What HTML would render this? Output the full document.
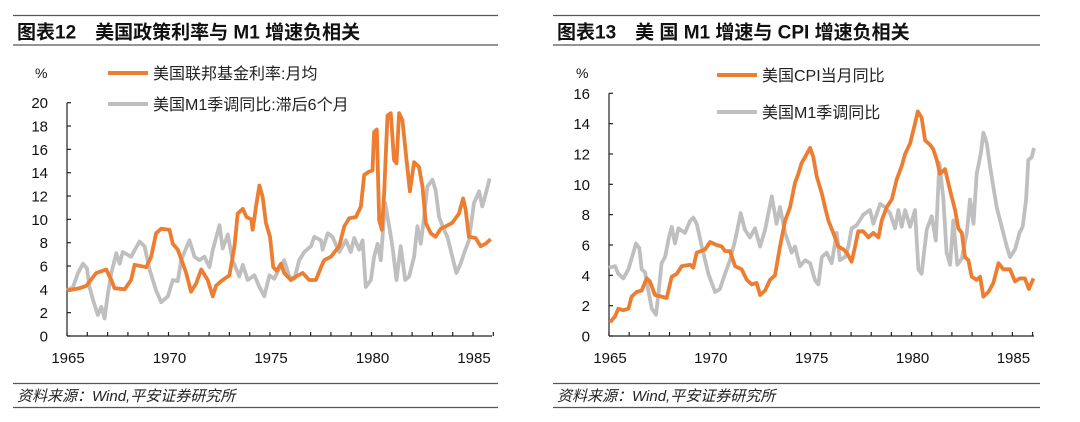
<!DOCTYPE html>
<html><head><meta charset="utf-8">
<style>
body{margin:0;background:#fff;width:1080px;height:422px;overflow:hidden;font-family:"Liberation Sans","Noto Sans CJK SC",sans-serif;}
svg{position:absolute;left:0;top:0}
</style></head>
<body>
<svg id="c" width="1080" height="422"></svg>
<script>
// ---- Chart 12 data ----
const fedYears=[65.00,65.62,65.95,66.44,66.77,66.93,67.18,67.34,67.84,68.16,68.33,68.90,69.15,69.39,69.64,70.05,70.21,70.46,70.87,71.11,71.36,71.61,71.93,72.18,72.34,72.59,73.00,73.25,73.41,73.66,73.84,74.07,74.15,74.31,74.48,74.64,74.80,75.0,75.16,75.33,75.54,75.70,76.03,76.28,76.61,76.93,77.26,77.51,77.67,78.0,78.41,78.66,78.90,79.23,79.48,79.64,79.89,80.05,80.13,80.26,80.38,80.51,80.62,80.79,80.95,81.11,81.23,81.36,81.52,81.69,81.89,82.10,82.34,82.51,82.67,82.92,83.16,83.41,83.66,83.98,84.31,84.51,84.64,84.80,85.13,85.38,85.62,85.87];
const fedValues=[3.9,4.1,4.3,5.4,5.6,5.7,4.8,4.1,4.0,4.8,6.1,5.9,6.8,8.8,9.2,9.1,7.9,7.4,5.4,3.8,4.5,5.7,4.8,3.4,4.3,4.7,5.2,7.7,10.5,10.9,10.2,10.0,9.1,11.1,12.9,11.9,9.7,8.5,5.9,5.6,6.2,5.4,4.8,5.1,5.4,4.8,4.8,5.9,6.5,6.8,7.7,9.4,10.1,10.2,11.1,13.8,14.1,14.2,17.5,17.7,9.9,9.1,12.2,18.9,19.1,15.1,14.8,19.1,18.5,15.7,12.4,14.9,14.5,12.8,9.7,8.8,8.5,9.2,9.4,9.7,10.5,11.8,10.8,8.5,8.4,7.7,7.9,8.3];
const m1LagYears=[65.00,65.30,65.54,65.79,65.98,66.11,66.28,66.52,66.69,66.85,67.02,67.18,67.43,67.59,67.75,68.16,68.57,68.82,69.07,69.39,69.64,69.97,70.21,70.46,70.62,71.03,71.28,71.52,71.77,72.02,72.18,72.51,72.67,72.92,73.16,73.49,73.66,73.90,74.23,74.48,74.72,74.97,75.21,75.46,75.70,75.95,76.20,76.44,76.69,77.02,77.18,77.51,77.59,77.84,78.08,78.41,78.74,78.98,79.15,79.39,79.56,79.72,79.97,80.13,80.30,80.46,80.67,80.87,81.03,81.23,81.44,81.66,81.85,82.10,82.26,82.43,82.59,82.75,83.00,83.16,83.33,83.57,83.74,83.98,84.18,84.39,84.56,84.80,85.05,85.30,85.46,85.66,85.82];
const m1LagValues=[3.9,4.2,5.4,6.2,5.8,4.2,3.1,1.8,2.5,1.5,3.7,5.4,7.1,6.2,7.2,6.8,8.1,7.7,5.7,3.9,2.9,3.4,4.8,4.7,6.5,8.2,6.8,6.5,6.8,5.9,7.4,9.5,7.5,8.7,6.5,5.1,6.1,4.8,5.2,4.2,3.4,5.2,4.9,5.8,6.5,5.1,4.9,6.5,7.2,7.7,8.5,8.2,7.4,8.8,8.5,7.2,8.2,7.2,8.4,7.4,8.2,4.2,4.8,6.8,7.9,6.5,11.4,9.4,7.7,4.8,7.7,4.8,5.1,6.8,9.4,7.9,10.2,12.8,13.4,12.5,10.2,9.1,8.5,6.8,5.4,6.2,7.1,8.2,11.4,12.4,11.1,12.4,13.5];
const leftYTicks=[0,2,4,6,8,10,12,14,16,18,20];
// ---- Chart 13 data ----
const cpiYears=[65.05,65.30,65.46,65.71,65.96,66.12,66.37,66.62,66.87,67.03,67.28,67.61,67.86,68.11,68.36,68.60,69.02,69.18,69.35,69.76,70.01,70.34,70.59,70.75,71.00,71.25,71.58,71.83,72.07,72.32,72.49,72.74,72.98,73.23,73.48,73.73,73.98,74.22,74.39,74.55,74.72,74.97,75.13,75.30,75.55,75.71,75.88,76.12,76.37,76.62,76.79,77.03,77.20,77.36,77.61,77.86,78.11,78.36,78.52,78.77,79.02,79.26,79.51,79.68,79.93,80.17,80.31,80.50,80.67,80.92,81.08,81.25,81.41,81.66,81.91,82.16,82.32,82.49,82.65,82.82,82.98,83.23,83.40,83.56,83.81,84.06,84.31,84.55,84.88,85.13,85.37,85.62,85.82,86.04];
const cpiValues=[0.9,1.3,1.8,1.7,1.8,2.6,2.9,3.0,3.8,3.6,2.7,2.6,2.5,3.9,4.1,4.6,4.7,4.5,5.5,5.7,6.2,6.0,5.9,5.6,5.6,4.6,4.4,3.7,3.4,3.5,2.7,3.0,3.7,4.0,5.9,7.6,8.5,10.1,10.7,11.4,11.8,12.4,11.8,10.5,9.4,8.5,7.6,6.8,5.9,5.7,5.5,4.9,5.9,6.9,6.9,6.5,6.8,6.5,7.6,8.5,9.0,10.3,11.2,12.0,12.7,14.0,14.8,14.4,12.9,12.6,12.3,11.6,10.7,11.0,9.6,8.3,7.1,6.8,5.2,5.0,3.9,3.7,3.9,2.6,2.9,3.5,4.8,4.4,4.4,3.6,3.8,3.8,3.1,3.8];
const m1Years=[65.00,65.30,65.46,65.71,65.96,66.21,66.34,66.50,66.62,66.79,66.95,67.12,67.33,67.45,67.61,67.78,67.94,68.11,68.27,68.44,68.77,69.02,69.18,69.35,69.60,69.93,70.26,70.50,70.75,71.00,71.25,71.53,71.74,71.99,72.24,72.49,72.74,73.07,73.31,73.48,73.73,74.06,74.22,74.47,74.72,74.97,75.21,75.38,75.55,75.79,76.04,76.29,76.45,76.70,76.87,77.03,77.28,77.61,77.94,78.11,78.44,78.69,78.93,79.18,79.35,79.51,79.68,79.93,80.17,80.34,80.50,80.75,81.00,81.20,81.38,81.58,81.74,81.91,82.07,82.27,82.49,82.74,82.90,83.07,83.23,83.43,83.56,83.73,83.89,84.06,84.22,84.47,84.72,84.88,85.13,85.35,85.51,85.68,85.79,85.96,86.07];
const m1Values=[4.5,4.6,4.1,3.8,4.4,5.5,6.1,5.8,4.4,4.2,3.0,1.8,1.4,2.8,4.8,5.2,6.3,7.2,6.1,7.1,6.8,7.6,7.8,7.4,5.9,4.1,2.9,3.1,4.1,5.0,6.3,8.1,7.0,6.5,7.1,5.9,7.0,9.2,7.4,8.5,6.8,5.5,5.9,4.6,5.0,4.8,3.7,3.4,5.2,5.5,4.8,6.8,5.0,5.2,5.9,7.1,7.3,8.0,8.3,7.4,8.7,8.5,8.1,7.1,8.3,7.2,8.3,7.2,8.3,4.4,4.1,7.0,7.9,6.3,11.4,9.0,5.5,4.7,7.6,4.7,5.1,6.8,9.0,7.4,10.7,12.0,13.4,12.7,11.2,9.8,8.5,7.2,5.9,5.2,5.7,6.8,7.2,9.0,11.6,11.8,12.4];
const rightYTicks=[0,2,4,6,8,10,12,14,16];
const xTickLabels=[1965,1970,1975,1980,1985];

const NS="http://www.w3.org/2000/svg";
const svg=document.getElementById('c');
function mk(tag,attrs,parent){const e=document.createElementNS(NS,tag);for(const k in attrs)e.setAttribute(k,attrs[k]);(parent||svg).appendChild(e);return e;}
function txt(s,attrs,parent){const e=mk('text',attrs,parent);e.textContent=s;return e;}

function frame(x1,x2,title,name){
  let l;
  l=mk('line',{x1:x1,x2:x2,y1:15.5,y2:15.5,stroke:'#555','stroke-width':1.3});
  
  
  l=mk('line',{x1:x1,x2:x2,y1:45,y2:45,stroke:'#555','stroke-width':1.3});
  
  
  let t=txt(title,{x:x1+4,y:38.5,'font-size':'19','font-weight':'bold',fill:'#111'});
  
  
  l=mk('line',{x1:x1,x2:x2,y1:383.5,y2:383.5,stroke:'#555','stroke-width':1.3});
  
  
  l=mk('line',{x1:x1,x2:x2,y1:407.5,y2:407.5,stroke:'#555','stroke-width':1.3});
  
  
  t=txt('资料来源：Wind,平安证券研究所',{x:x1+4,y:401,'font-size':'15','font-style':'italic',fill:'#222'});
  
  
}
frame(13,498,'图表12　美国政策利率与 M1 增速负相关','chart12');
frame(553,1040,'图表13　美 国 M1 增速与 CPI 增速负相关','chart13');

function chart(cfg){
  const g=mk('g',{});
  
  
  const xs=y=>cfg.x0+(y-65)*cfg.pxYear;
  const ys=v=>cfg.y0-(v/cfg.ymax)*(cfg.y0-cfg.yTop);
  let a=mk('line',{x1:cfg.x0,x2:cfg.x0,y1:cfg.yTop,y2:cfg.y0,stroke:'#222','stroke-width':1.2},g);
  
  
  a=mk('line',{x1:cfg.x0,x2:cfg.xEnd,y1:cfg.y0,y2:cfg.y0,stroke:'#222','stroke-width':1.2},g);
  
  
  cfg.yTicks.forEach(v=>{
    const tk=mk('line',{x1:cfg.x0,x2:cfg.x0+4,y1:ys(v),y2:ys(v),stroke:'#222','stroke-width':1.2},g);
    
    
    const t=txt(String(v),{x:cfg.x0-19,y:ys(v)+5.5,'font-size':'15','text-anchor':'end',fill:'#111'},g);
    
    
  });
  for(let yr=65;yr<=86;yr++){
    const tk=mk('line',{x1:xs(yr),x2:xs(yr),y1:cfg.y0-4,y2:cfg.y0,stroke:'#222','stroke-width':1.2},g);
    
    
  }
  xTickLabels.forEach(yr=>{
    const t=txt(String(yr),{x:xs(yr-1900)+1,y:cfg.y0+27,'font-size':'15','text-anchor':'middle',fill:'#111'},g);
    
    
  });
  const u=txt('%',{x:cfg.pctX,y:78,'font-size':'14',fill:'#111'},g);
  
  
  cfg.series.forEach((s,i)=>{
    const d=s.xs.map((x,j)=>(j?'L':'M')+xs(x).toFixed(1)+','+ys(s.vs[j]).toFixed(1)).join('');
    const p=mk('path',{d:d,fill:'none',stroke:s.color,'stroke-width':3.8,'stroke-linejoin':'round'},g);
    
    
  });
  cfg.legend.forEach((s,i)=>{
    const ly=cfg.legY[i];
    const l=mk('line',{x1:cfg.legX,x2:cfg.legX+40,y1:ly,y2:ly,stroke:s.color,'stroke-width':4},g);
    
    
    const t=txt(s.label,{x:cfg.legX+45,y:ly+6,'font-size':'16',fill:'#222'},g);
    
    
  });
}
const s12=[{xs:fedYears,vs:fedValues,color:'#ED7D31',name:'fed-funds-line',label:'美国联邦基金利率:月均'},
           {xs:m1LagYears,vs:m1LagValues,color:'#BFBFBF',name:'m1-lagged-line',label:'美国M1季调同比:滞后6个月'}];
const s13=[{xs:cpiYears,vs:cpiValues,color:'#ED7D31',name:'cpi-yoy-line',label:'美国CPI当月同比'},
           {xs:m1Years,vs:m1Values,color:'#BFBFBF',name:'m1-yoy-line',label:'美国M1季调同比'}];
chart({name:'chart12-plot',x0:67,xEnd:492,pxYear:20.3,y0:336,yTop:102.7,ymax:20,yTicks:leftYTicks,pctX:35,legX:108,legY:[73,104],
  series:[s12[1],s12[0]],legend:s12});
chart({name:'chart13-plot',x0:609,xEnd:1034,pxYear:20.17,y0:336,yTop:93.3,ymax:16,yTicks:rightYTicks,pctX:576,legX:717,legY:[75,112],
  series:[s13[1],s13[0]],legend:s13});
</script>
</body></html>
